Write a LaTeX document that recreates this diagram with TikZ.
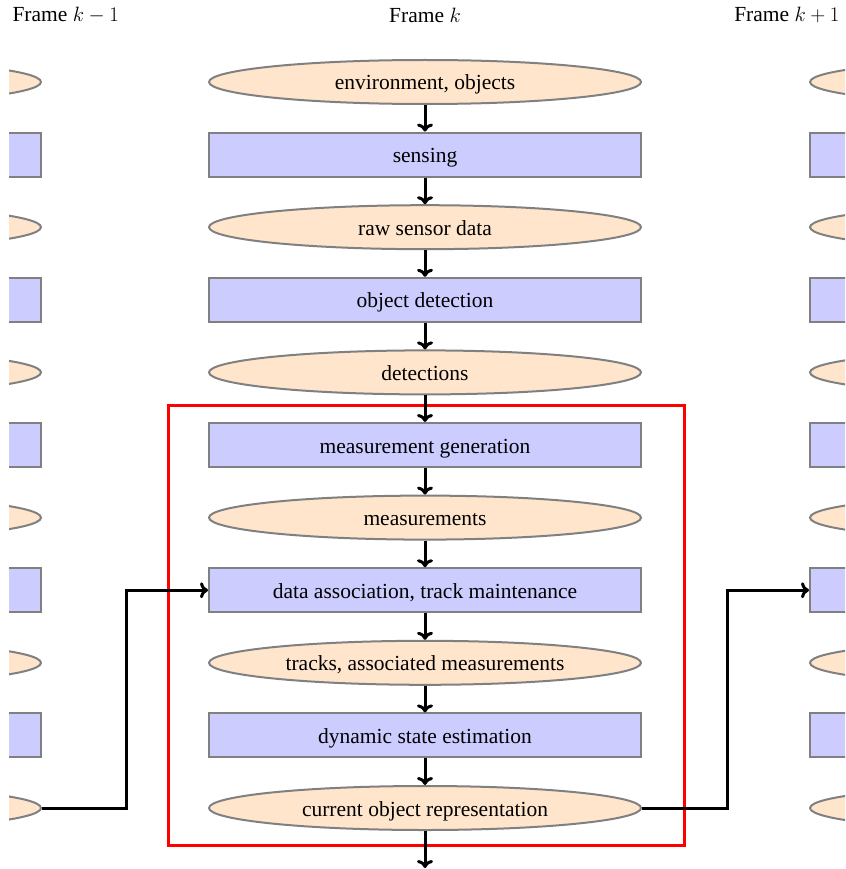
\documentclass[tikz,border=0pt]{standalone}
\usepackage{fontspec}
\setmainfont{Liberation Serif}
\usetikzlibrary{shapes.geometric,arrows.meta}

\begin{document}
\begin{tikzpicture}[x=1pt,y=-1pt,
  chain/.style={draw=gray, line width=2pt, minimum width=432pt,
    minimum height=44pt, inner sep=0pt, text height=20pt, text depth=4pt},
  state/.style={chain, ellipse, fill=orange!20},
  proc/.style={chain, rectangle, fill=blue!20},
  flow/.style={line width=3pt, -{To[length=8pt,width=16pt]}},
  frame/.style={draw=red, line width=3pt},
  font=\fontsize{21.5}{25}\selectfont]

\useasboundingbox (0,0) rectangle (845,869);
\clip (9,0) rectangle (845,869);

% frame titles
\node[anchor=west] (title-prev) at (9,15) {Frame $k-1$};
\node (title-cur) at (425,15) {Frame $k$};
\node[anchor=east] (title-next) at (843,15) {Frame $k+1$};

% processing chain of the current frame
\draw[frame] (168,405) rectangle (684,845);

% node kinds along the chain
\def\kinds{1/state,2/proc,3/state,4/proc,5/state,6/proc,7/state,8/proc,9/state,10/proc,11/state}

% neighbouring frames: only their edges show
\foreach \c/\x in {P/-175, N/1026} {
  \foreach \i/\s in \kinds {
    \node[\s] (\c-\i) at (\x, {82+72.6*(\i-1)}) {};
  }
}

% current frame
\foreach \i/\s/\t in {
   1/state/{environment, objects},
   2/proc/{sensing},
   3/state/{raw sensor data},
   4/proc/{object detection},
   5/state/{detections},
   6/proc/{measurement generation},
   7/state/{measurements},
   8/proc/{data association, track maintenance},
   9/state/{tracks, associated measurements},
  10/proc/{dynamic state estimation},
  11/state/{current object representation}} {
  \node[\s] (C-\i) at (425, {82+72.6*(\i-1)}) {\t};
}
\foreach \i [evaluate=\i as \j using int(\i+1)] in {1,...,10} {
  \draw[flow] (C-\i) -- (C-\j);
}
\coordinate (C-out) at (425,868);
\draw[flow] (C-11) -- (C-out);

% state handed over to the next frame
\draw[flow] (P-11.east) -- ++(84,0) |- (C-8.west);
\draw[flow] (C-11.east) -- ++(85,0) |- (N-8.west);
\end{tikzpicture}
\end{document}
